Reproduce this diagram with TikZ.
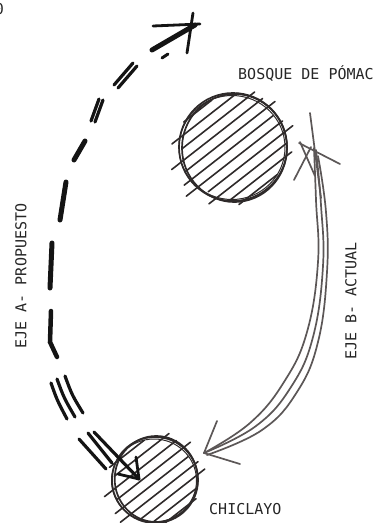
\documentclass[tikz,border=0pt]{standalone}
\usepackage{fontspec}
\newfontfamily\labfont{DejaVu Sans Mono}
\usetikzlibrary{calc}
\definecolor{inkgray}{HTML}{5C5757}
\definecolor{circink}{HTML}{2E2A2A}
\begin{document}
\begin{tikzpicture}[x=1pt,y=-1pt,
  lab/.style={font=\labfont\fontsize{15}{15}\selectfont, text=black!85, inner sep=0pt},
  ink/.style={draw=black!92, line cap=round, line width=#1},
  gline/.style={draw=inkgray, line cap=round, line width=1.7pt},
  circ/.style={draw=circink, line width=1.7pt},
  hatch/.style={draw=circink, line cap=round, line width=1.6pt},
  place/.style={circle, circ, inner sep=0pt, minimum size=#1}
]
\useasboundingbox (0,0) rectangle (379,523);

% ---------------- places ----------------
\node[place=108pt] (pomac) at (233,147) {};
\draw[circ] ($(pomac.center)+(1.5,1)$) circle[x radius=52.5pt, y radius=54pt];
\draw[circ, line width=1pt] ($(pomac.center)+(-1,0.5)$) circle[x radius=53pt, y radius=52pt];
\node[place=86pt] (chiclayo) at (155,480) {};
\draw[circ] ($(chiclayo.center)+(1.2,-1)$) circle[x radius=41.5pt, y radius=43pt];
\draw[circ, line width=1pt] ($(chiclayo.center)+(-1,0.5)$) circle[x radius=42.5pt, y radius=41.5pt];

% hatching
\begin{scope}[shift={(pomac.center)}, rotate=38]
\foreach \d/\a/\b in {-50/3/-8, -40/10/0, -30/-4/6, -20/12/3, -10/0/8, 0/8/-3, 10/14/2, 20/-3/10, 30/9/0, 40/1/7, 49/8/-5}{
  \pgfmathsetmacro\L{sqrt(max(54*54-\d*\d,1))}
  \pgfmathsetmacro\s{-\L-(\a)}
  \pgfmathsetmacro\e{\L+(\b)}
  \draw[hatch] (\s,\d) -- (\e,\d);
}
\end{scope}
\begin{scope}[shift={(chiclayo.center)}, rotate=38]
\foreach \d/\a/\b in {-38/8/-4, -28/-3/7, -18/11/2, -8/0/9, 2/9/-2, 12/12/4, 22/-2/9, 32/7/0, 40/3/5}{
  \pgfmathsetmacro\L{sqrt(max(43*43-\d*\d,1))}
  \pgfmathsetmacro\s{-\L-(\a)}
  \pgfmathsetmacro\e{\L+(\b)}
  \draw[hatch] (\s,\d) -- (\e,\d);
}
\end{scope}

% ---------------- labels ----------------
\node[lab, anchor=base west] (lpomac) at (238,79) {BOSQUE DE PÓMAC};
\node[lab, anchor=base west] (lchic) at (209,514) {CHICLAYO};
\node[lab, rotate=90] (lA) at (21,276) {EJE A- PROPUESTO};
\node[lab, rotate=90] (lB) at (351,301) {EJE B- ACTUAL};
\node[lab] (cut) at (-0.5,9) {0};

% ---------------- axis A (proposed, dashed) ----------------
\coordinate (aTop) at (195,25);
\coordinate (aTip) at (139,479);
% top arrow head
\draw[ink=2.8pt] (153,26) -- (200,24);
\draw[ink=2.8pt] (193,13) -- (187,53);
\draw[ink=5pt] (152,50) -- (aTop);
\draw[ink=3pt] (162,58) -- (168,54);
% dashes
\draw[ink=3.2pt] (114,85) -- (133,63);
\draw[ink=3.2pt] (118,88) -- (137,66);
\draw[ink=3.2pt] (91,121) -- (99,99);
\draw[ink=3.2pt] (95,122) -- (103,100);
\draw[ink=5pt] (74,160) -- (85,141);
\draw[ink=5pt] (60,220) -- (66,182);
\draw[ink=5pt] (50,288) -- (52,243);
\draw[ink=4.5pt] (51,311) -- (50,342) -- (57,357);
\draw[ink=3.2pt] (51,383) .. controls (57,400) .. (67,419);
\draw[ink=3.2pt] (57,379) .. controls (64,398) .. (75,417);
\draw[ink=3.2pt] (65,376) .. controls (72,395) .. (83,413);
\draw[ink=3.2pt] (79,439) -- (106,469);
\draw[ink=3.2pt] (88,433) -- (112,463);
\draw[ink=3.2pt] (94,432) -- (aTip);
% bottom arrow head
\draw[ink=2.8pt] (136,457) -- (aTip);
\draw[ink=2.8pt] (118,474) -- (aTip);

% ---------------- axis B (current) ----------------
\coordinate (bStart) at (314,148);
\coordinate (bTip) at (204,453);
\draw[gline] (310,113) -- (321,198);
\draw[gline] (299,143) -- (340,164);
\draw[gline] (294,180) -- (311,147);
\draw[gline] (300,142) -- (315,176);
\draw[gline] plot[smooth, tension=0.7] coordinates {(bStart) (316,200) (318,262) (307,332) (284,382) (250,423) (bTip)};
\draw[gline] plot[smooth, tension=0.7] coordinates {(316,150) (321,205) (323,266) (313,337) (291,387) (256,426) (bTip)};
\draw[gline] plot[smooth, tension=0.7] coordinates {(318,156) (326,212) (327,272) (318,342) (297,392) (262,430) (207,455)};
\draw[gline] (bTip) -- (217,421);
\draw[gline] (bTip) -- (240,464);
\end{tikzpicture}
\end{document}
